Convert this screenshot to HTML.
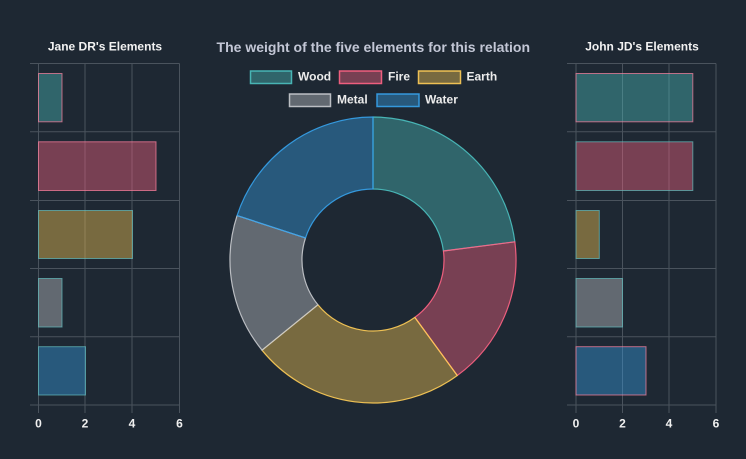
<!DOCTYPE html>
<html><head><meta charset="utf-8">
<style>
html,body{margin:0;padding:0;background:#1e2833;}
body{width:746px;height:459px;overflow:hidden;}
svg{display:block;font-family:"Liberation Sans",Arial,sans-serif;}
</style></head>
<body>
<svg width="746" height="459" viewBox="0 0 746 459" xmlns="http://www.w3.org/2000/svg">
<rect x="0" y="0" width="746" height="459" fill="#1e2833"/>

<!-- Titles -->
<text x="105" y="50.5" text-anchor="middle" font-size="12" font-weight="bold" fill="#f2f2f2">Jane DR's Elements</text>
<text x="642" y="50.5" text-anchor="middle" font-size="12" font-weight="bold" fill="#f2f2f2">John JD's Elements</text>
<text x="373.3" y="52" text-anchor="middle" font-size="14" font-weight="bold" fill="#c3c7d6">The weight of the five elements for this relation</text>

<!-- Legend -->
<g stroke-width="1.5" font-size="12" font-weight="bold" fill="#ececec">
  <rect x="250.5" y="71" width="41" height="12.5" fill="rgba(75,192,192,0.4)" stroke="rgba(75,192,192,0.9)"/>
  <text x="298" y="80.3" stroke="none">Wood</text>
  <rect x="339.5" y="71" width="42" height="12.5" fill="rgba(255,99,132,0.4)" stroke="rgba(255,99,132,0.9)"/>
  <text x="388" y="80.3" stroke="none">Fire</text>
  <rect x="418.5" y="71" width="42" height="12.5" fill="rgba(255,205,86,0.4)" stroke="rgba(255,205,86,0.9)"/>
  <text x="466.5" y="80.3" stroke="none">Earth</text>
  <rect x="289.5" y="94" width="41" height="12.5" fill="rgba(201,203,207,0.4)" stroke="rgba(201,203,207,0.9)"/>
  <text x="337" y="103.3" stroke="none">Metal</text>
  <rect x="377" y="94" width="42" height="12.5" fill="rgba(54,162,235,0.4)" stroke="rgba(54,162,235,0.9)"/>
  <text x="425" y="103.3" stroke="none">Water</text>
</g>

<!-- Left chart grid -->
<g stroke="#4a535d" stroke-width="1">
  <line x1="30" y1="63.5" x2="179.5" y2="63.5"/>
  <line x1="30" y1="131.8" x2="179.5" y2="131.8"/>
  <line x1="30" y1="200.5" x2="179.5" y2="200.5"/>
  <line x1="30" y1="268.5" x2="179.5" y2="268.5"/>
  <line x1="30" y1="336.7" x2="179.5" y2="336.7"/>
  <line x1="30" y1="405" x2="179.5" y2="405"/>
  <line x1="38.5" y1="63.5" x2="38.5" y2="413"/>
  <line x1="85" y1="63.5" x2="85" y2="413"/>
  <line x1="132" y1="63.5" x2="132" y2="413"/>
  <line x1="179.5" y1="63.5" x2="179.5" y2="413"/>
</g>
<!-- Left bars: 1,5,4,1,2 -->
<g stroke-width="1">
  <rect x="38.5" y="73.5" width="23.5" height="48.3" fill="rgba(75,192,192,0.4)" stroke="rgba(255,130,160,0.7)"/>
  <rect x="38.5" y="141.8" width="117.5" height="48.7" fill="rgba(255,99,132,0.4)" stroke="rgba(255,130,160,0.7)"/>
  <rect x="38.5" y="210.5" width="94" height="48" fill="rgba(255,205,86,0.4)" stroke="rgba(100,190,190,0.7)"/>
  <rect x="38.5" y="278.5" width="23.5" height="48.5" fill="rgba(201,203,207,0.4)" stroke="rgba(100,190,190,0.7)"/>
  <rect x="38.5" y="346.7" width="47" height="48.3" fill="rgba(54,162,235,0.4)" stroke="rgba(100,190,190,0.7)"/>
</g>
<g font-size="12" font-weight="bold" fill="#f0f0f0" text-anchor="middle">
  <text x="38.5" y="427.5">0</text>
  <text x="85" y="427.5">2</text>
  <text x="132" y="427.5">4</text>
  <text x="179.5" y="427.5">6</text>
</g>

<!-- Right chart grid -->
<g stroke="#4a535d" stroke-width="1">
  <line x1="567" y1="63.5" x2="716" y2="63.5"/>
  <line x1="567" y1="131.8" x2="716" y2="131.8"/>
  <line x1="567" y1="200.5" x2="716" y2="200.5"/>
  <line x1="567" y1="268.5" x2="716" y2="268.5"/>
  <line x1="567" y1="336.7" x2="716" y2="336.7"/>
  <line x1="567" y1="405" x2="716" y2="405"/>
  <line x1="576" y1="63.5" x2="576" y2="413"/>
  <line x1="622.5" y1="63.5" x2="622.5" y2="413"/>
  <line x1="669" y1="63.5" x2="669" y2="413"/>
  <line x1="716" y1="63.5" x2="716" y2="413"/>
</g>
<!-- Right bars: 5,5,1,2,3 -->
<g stroke-width="1">
  <rect x="576" y="73.5" width="116.8" height="48.3" fill="rgba(75,192,192,0.4)" stroke="rgba(255,130,160,0.7)"/>
  <rect x="576" y="141.8" width="116.8" height="48.7" fill="rgba(255,99,132,0.4)" stroke="rgba(100,190,190,0.7)"/>
  <rect x="576" y="210.5" width="23.3" height="48" fill="rgba(255,205,86,0.4)" stroke="rgba(100,190,190,0.7)"/>
  <rect x="576" y="278.5" width="46.5" height="48.5" fill="rgba(201,203,207,0.4)" stroke="rgba(100,190,190,0.7)"/>
  <rect x="576" y="346.7" width="70" height="48.3" fill="rgba(54,162,235,0.4)" stroke="rgba(255,130,160,0.7)"/>
</g>
<g font-size="12" font-weight="bold" fill="#f0f0f0" text-anchor="middle">
  <text x="576" y="427.5">0</text>
  <text x="622.5" y="427.5">2</text>
  <text x="669" y="427.5">4</text>
  <text x="716" y="427.5">6</text>
</g>

<!-- Donut -->
<g stroke-width="1.2" stroke-linejoin="round">
  <path d="M373 117 A143 143 0 0 1 514.84 241.83 L443.42 250.98 A71 71 0 0 0 373 189 Z" fill="rgba(75,192,192,0.4)" stroke="rgba(75,192,192,0.9)"/>
  <path d="M514.84 241.83 A143 143 0 0 1 457.26 375.54 L414.83 317.37 A71 71 0 0 0 443.42 250.98 Z" fill="rgba(255,99,132,0.4)" stroke="rgba(255,99,132,0.9)"/>
  <path d="M457.26 375.54 A143 143 0 0 1 262.03 350.19 L317.90 304.78 A71 71 0 0 0 414.83 317.37 Z" fill="rgba(255,205,86,0.4)" stroke="rgba(255,205,86,0.9)"/>
  <path d="M262.03 350.19 A143 143 0 0 1 237.08 215.57 L305.51 237.94 A71 71 0 0 0 317.90 304.78 Z" fill="rgba(201,203,207,0.4)" stroke="rgba(201,203,207,0.9)"/>
  <path d="M237.08 215.57 A143 143 0 0 1 373 117 L373 189 A71 71 0 0 0 305.51 237.94 Z" fill="rgba(54,162,235,0.4)" stroke="rgba(54,162,235,0.9)"/>
</g>
</svg>
</body></html>
